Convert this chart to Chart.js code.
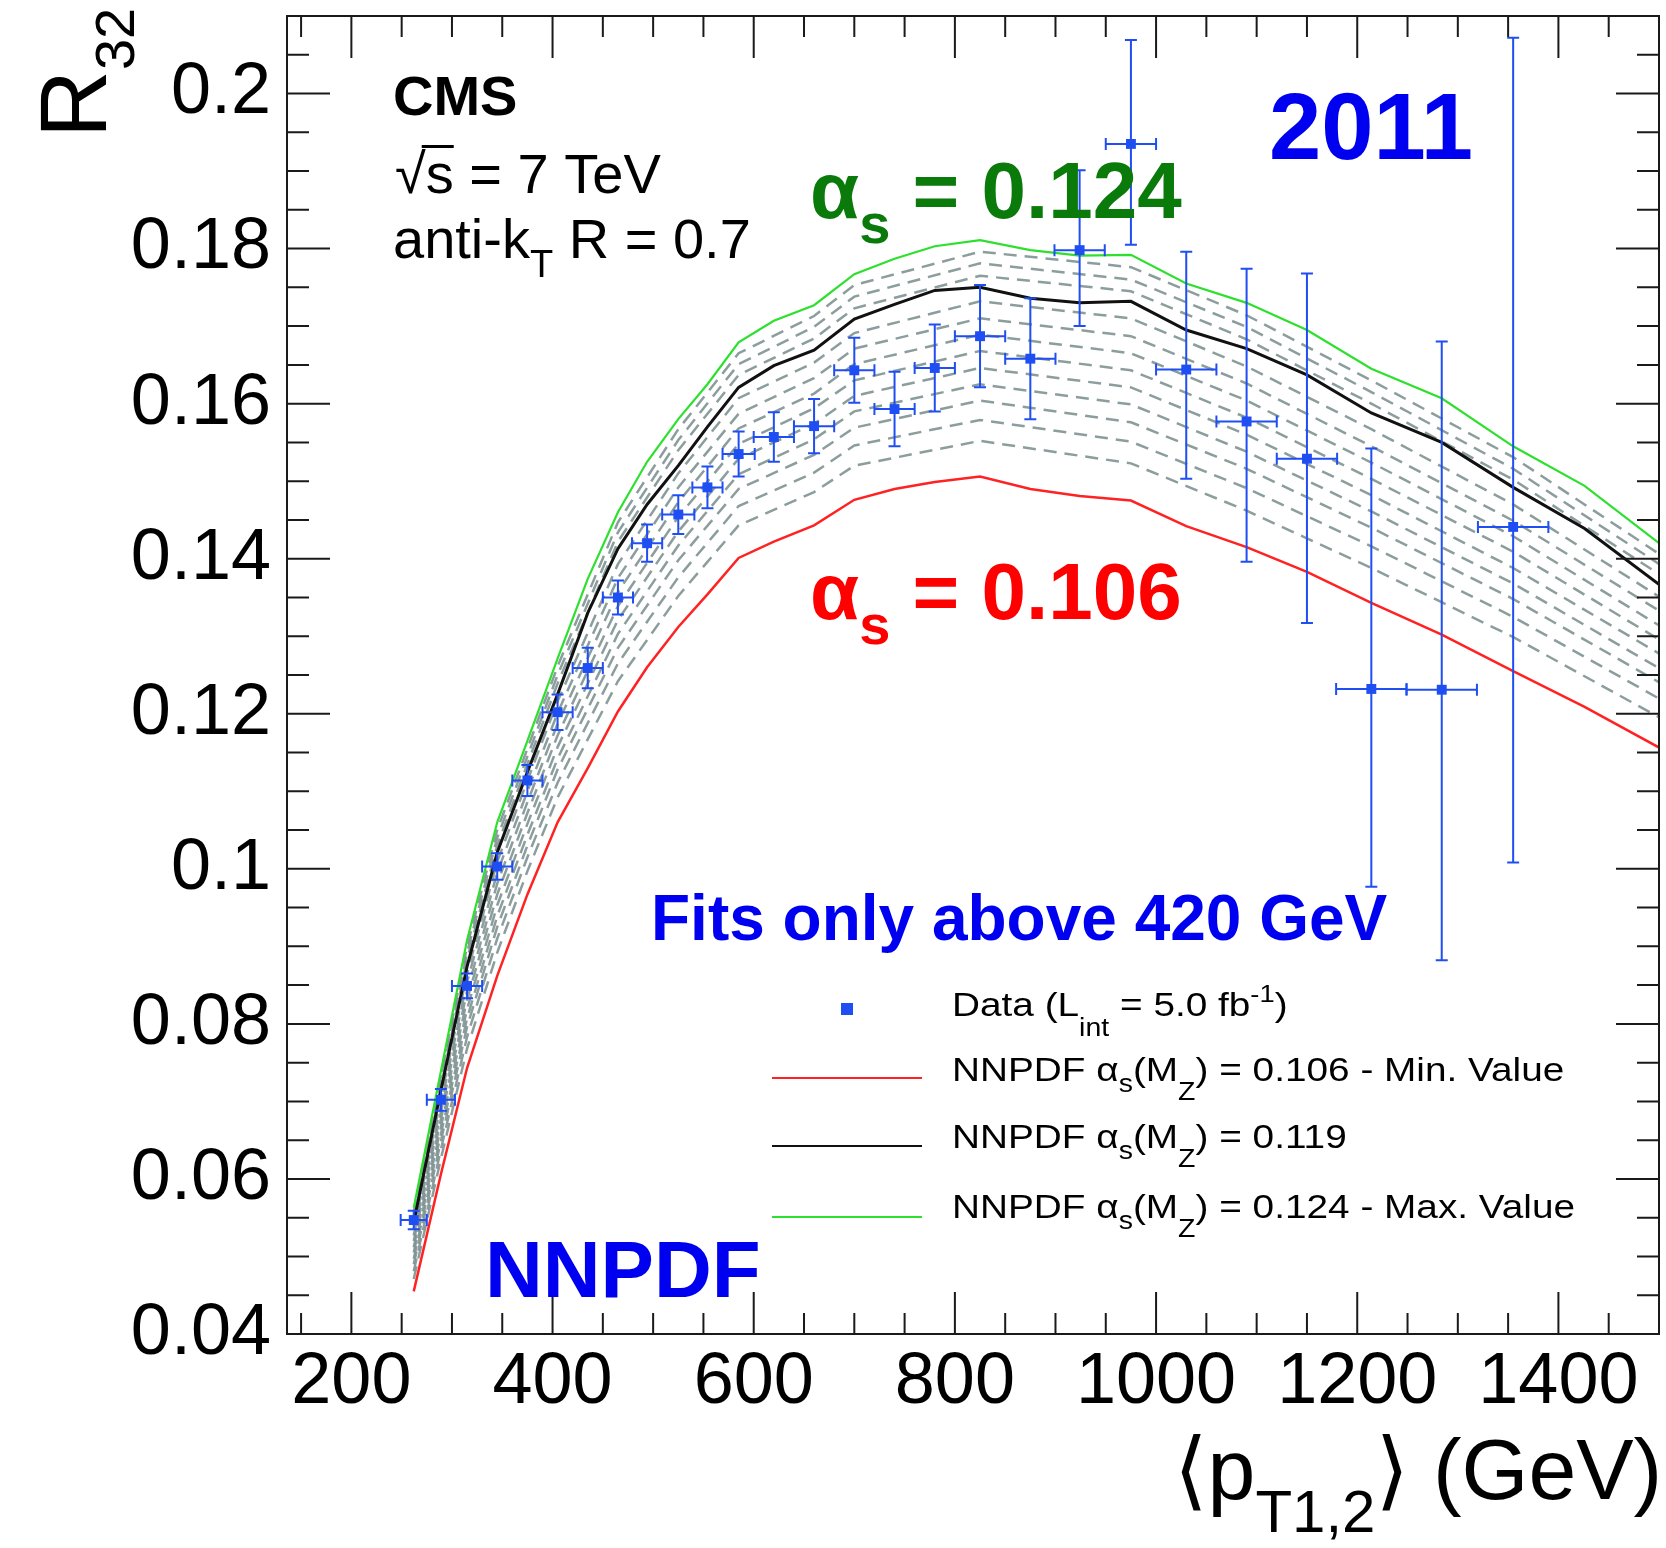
<!DOCTYPE html>
<html>
<head>
<meta charset="utf-8">
<script src="https://cdn.jsdelivr.net/npm/chart.js@4.4.1/dist/chart.umd.min.js"></script>
<style>
  html, body { margin: 0; padding: 0; background: #fff; }
  canvas { display: block; }
</style>
</head>
<body>
<canvas id="r32Chart" width="1666" height="1548"></canvas>
<script>
// axis ticks
const xTicks = [200, 400, 600, 800, 1000, 1200, 1400];
const xTickLabels = ['200', '400', '600', '800', '1000', '1200', '1400'];
const yTicks = [0.04, 0.06, 0.08, 0.1, 0.12, 0.14, 0.16, 0.18, 0.2];
const yTickLabels = ['0.04', '0.06', '0.08', '0.1', '0.12', '0.14', '0.16', '0.18', '0.2'];

// CMS data points (R32 vs <pT1,2>)
const ptX = [262, 289, 315, 345, 375, 405, 435, 465, 494, 525, 554, 585, 620, 660, 700, 740, 780, 825, 875, 924, 975, 1030, 1090, 1150, 1214, 1284, 1355];
const ptY = [0.0547, 0.0702, 0.0849, 0.1003, 0.1114, 0.1202, 0.1259, 0.1350, 0.1420, 0.1457, 0.1492, 0.1535, 0.1557, 0.1571, 0.1643, 0.1593, 0.1646, 0.1687, 0.1658, 0.1798, 0.1935, 0.1644, 0.1577, 0.1529, 0.1232, 0.1231, 0.1441];
const ptErrUp = [0.0012, 0.0014, 0.0016, 0.0017, 0.0020, 0.0023, 0.0026, 0.0022, 0.0024, 0.0025, 0.0027, 0.0029, 0.0032, 0.0035, 0.0042, 0.0048, 0.0056, 0.0066, 0.0078, 0.0103, 0.0134, 0.0152, 0.0197, 0.0239, 0.0310, 0.0449, 0.0631];
const ptErrDn = [0.0012, 0.0014, 0.0016, 0.0017, 0.0020, 0.0023, 0.0026, 0.0022, 0.0024, 0.0025, 0.0027, 0.0029, 0.0032, 0.0035, 0.0042, 0.0048, 0.0056, 0.0066, 0.0078, 0.0098, 0.0130, 0.0141, 0.0181, 0.0212, 0.0255, 0.0349, 0.0433];
const ptXErr = [13, 14, 15, 15, 15, 15, 15, 15, 15, 16, 15, 16, 20, 20, 20, 20, 20, 25, 25, 25, 25, 30, 30, 30, 35, 35, 35];

// NNPDF predictions
const xCurve = [262, 289, 315, 345, 375, 405, 435, 465, 494, 525, 554, 585, 620, 660, 700, 740, 780, 825, 875, 924, 975, 1030, 1090, 1150, 1214, 1284, 1355, 1426, 1505];
const alpha124 = [0.0563, 0.0739, 0.0908, 0.1060, 0.1165, 0.1271, 0.1374, 0.1460, 0.1525, 0.1580, 0.1625, 0.1679, 0.1707, 0.1727, 0.1767, 0.1787, 0.1803, 0.1811, 0.1798, 0.1791, 0.1792, 0.1755, 0.1730, 0.1695, 0.1645, 0.1607, 0.1545, 0.1494, 0.1415];
const alpha119 = [0.0544, 0.0714, 0.0874, 0.1021, 0.1125, 0.1225, 0.1330, 0.1413, 0.1470, 0.1520, 0.1570, 0.1621, 0.1649, 0.1669, 0.1709, 0.1728, 0.1746, 0.1750, 0.1736, 0.1730, 0.1732, 0.1695, 0.1671, 0.1637, 0.1588, 0.1550, 0.1492, 0.1439, 0.1362];
const alpha106 = [0.0455, 0.0606, 0.0743, 0.0862, 0.0967, 0.1060, 0.1130, 0.1203, 0.1260, 0.1312, 0.1354, 0.1401, 0.1422, 0.1443, 0.1476, 0.1490, 0.1499, 0.1506, 0.1490, 0.1481, 0.1475, 0.1442, 0.1415, 0.1383, 0.1343, 0.1302, 0.1255, 0.1209, 0.1153];

// intermediate alpha_s curves (grey dashed)
const xBand = [262, 289, 315, 345, 375, 405, 465, 525, 585, 660, 700, 825, 975, 1090, 1214, 1355, 1505];
const bandCurves = [
  [0.0558, 0.0732, 0.0900, 0.1050, 0.1155, 0.1261, 0.1447, 0.1567, 0.1665, 0.1713, 0.1753, 0.1796, 0.1776, 0.1714, 0.1630, 0.1531, 0.1402],
  [0.0552, 0.0726, 0.0892, 0.1040, 0.1145, 0.1250, 0.1434, 0.1553, 0.1651, 0.1699, 0.1738, 0.1781, 0.1760, 0.1699, 0.1615, 0.1516, 0.1389],
  [0.0547, 0.0719, 0.0883, 0.1030, 0.1135, 0.1239, 0.1422, 0.1540, 0.1637, 0.1684, 0.1723, 0.1765, 0.1745, 0.1683, 0.1600, 0.1502, 0.1376],
  [0.0535, 0.0704, 0.0865, 0.1009, 0.1114, 0.1216, 0.1393, 0.1510, 0.1607, 0.1653, 0.1691, 0.1732, 0.1710, 0.1648, 0.1567, 0.1470, 0.1347],
  [0.0527, 0.0695, 0.0854, 0.0995, 0.1100, 0.1201, 0.1375, 0.1492, 0.1587, 0.1633, 0.1671, 0.1710, 0.1687, 0.1626, 0.1545, 0.1449, 0.1329],
  [0.0520, 0.0686, 0.0842, 0.0981, 0.1086, 0.1187, 0.1357, 0.1473, 0.1568, 0.1613, 0.1651, 0.1689, 0.1665, 0.1604, 0.1524, 0.1429, 0.1310],
  [0.0512, 0.0677, 0.0831, 0.0967, 0.1072, 0.1172, 0.1339, 0.1454, 0.1548, 0.1594, 0.1630, 0.1668, 0.1643, 0.1582, 0.1503, 0.1409, 0.1292],
  [0.0505, 0.0667, 0.0819, 0.0953, 0.1058, 0.1157, 0.1321, 0.1435, 0.1529, 0.1574, 0.1610, 0.1646, 0.1621, 0.1560, 0.1482, 0.1388, 0.1274],
  [0.0497, 0.0658, 0.0807, 0.0939, 0.1044, 0.1142, 0.1303, 0.1417, 0.1509, 0.1554, 0.1590, 0.1625, 0.1599, 0.1538, 0.1461, 0.1368, 0.1255],
  [0.0490, 0.0649, 0.0796, 0.0925, 0.1030, 0.1128, 0.1285, 0.1398, 0.1490, 0.1534, 0.1569, 0.1604, 0.1576, 0.1516, 0.1440, 0.1348, 0.1237],
  [0.0481, 0.0638, 0.0783, 0.0910, 0.1015, 0.1111, 0.1265, 0.1376, 0.1468, 0.1511, 0.1546, 0.1579, 0.1551, 0.1491, 0.1416, 0.1325, 0.1216],
  [0.0471, 0.0626, 0.0768, 0.0892, 0.0997, 0.1092, 0.1242, 0.1352, 0.1443, 0.1486, 0.1520, 0.1552, 0.1523, 0.1462, 0.1388, 0.1299, 0.1192]
];

const FONT = '"Liberation Sans", Arial, "DejaVu Sans", sans-serif';
const dataBlue = '#1f4ef2';
const redLine = '#ff2222';
const greenLine = '#2ee02e';

function toXY(xs, ys) {
  return xs.map((x, i) => ({ x: x, y: ys[i] }));
}

// text with sub/superscripts: parts = [text, size, dy, bold]
function rich(c, x, y, parts) {
  parts.forEach(p => {
    c.font = (p[3] ? 'bold ' : '') + p[1] + 'px ' + FONT;
    c.fillText(p[0], x, y + p[2]);
    x += c.measureText(p[0]).width;
  });
  return x;
}

// ROOT style frame with inward ticks on all four sides
const frameTicks = {
  id: 'frameTicks',
  afterDatasetsDraw(chart) {
    const c = chart.ctx;
    const a = chart.chartArea;
    const xs = chart.scales.x, ys = chart.scales.y;
    c.save();
    c.strokeStyle = '#1a1a1a';
    c.lineWidth = 2;
    c.strokeRect(a.left, a.top, a.right - a.left, a.bottom - a.top);
    c.beginPath();
    for (let v = 150; v <= 1500; v += 50) {
      const px = xs.getPixelForValue(v);
      const len = v % 200 === 0 ? 42 : 21;
      c.moveTo(px, a.bottom); c.lineTo(px, a.bottom - len);
      c.moveTo(px, a.top); c.lineTo(px, a.top + len);
    }
    for (let k = 8; k <= 42; k++) {
      const py = ys.getPixelForValue(k * 0.005);
      const len = k % 4 === 0 ? 43 : 22;
      c.moveTo(a.left, py); c.lineTo(a.left + len, py);
      c.moveTo(a.right, py); c.lineTo(a.right - len, py);
    }
    c.stroke();
    c.restore();
  }
};

// error bars for the data points
const errorBars = {
  id: 'errorBars',
  afterDatasetsDraw(chart) {
    const c = chart.ctx;
    const a = chart.chartArea;
    const xs = chart.scales.x, ys = chart.scales.y;
    c.save();
    c.beginPath();
    c.rect(a.left, a.top, a.right - a.left, a.bottom - a.top);
    c.clip();
    c.strokeStyle = dataBlue;
    c.lineWidth = 2;
    ptX.forEach((v, i) => {
      const px = xs.getPixelForValue(v);
      const py = ys.getPixelForValue(ptY[i]);
      const x1 = xs.getPixelForValue(v - ptXErr[i]);
      const x2 = xs.getPixelForValue(v + ptXErr[i]);
      const y1 = ys.getPixelForValue(ptY[i] + ptErrUp[i]);
      const y2 = ys.getPixelForValue(ptY[i] - ptErrDn[i]);
      c.beginPath();
      c.moveTo(x1, py); c.lineTo(x2, py);
      c.moveTo(px, y1); c.lineTo(px, y2);
      c.moveTo(x1, py - 6); c.lineTo(x1, py + 6);
      c.moveTo(x2, py - 6); c.lineTo(x2, py + 6);
      c.moveTo(px - 6, y1); c.lineTo(px + 6, y1);
      c.moveTo(px - 6, y2); c.lineTo(px + 6, y2);
      c.stroke();
    });
    c.restore();
  }
};

// labels, legend and axis titles
const labels = {
  id: 'labels',
  afterDraw(chart) {
    const c = chart.ctx;
    c.save();
    c.textAlign = 'left';
    c.textBaseline = 'alphabetic';

    c.fillStyle = '#000';
    rich(c, 393, 115, [['CMS', 56, 0, true]]);
    const sq = rich(c, 395, 193, [['\u221A', 56, 0]]);
    const sEnd = rich(c, sq, 193, [['s', 56, 0]]);
    c.fillRect(sq - 4, 145, sEnd - sq + 4, 3);
    rich(c, sEnd, 193, [[' = 7 TeV', 56, 0]]);
    rich(c, 393, 258, [['anti-k', 56, 0], ['T', 38, 19], [' R = 0.7', 56, 0]]);

    c.fillStyle = '#0a7a0a';
    rich(c, 810, 218, [['\u03B1', 80, 0, true], ['s', 56, 25, true], [' = 0.124', 80, 0, true]]);
    c.fillStyle = '#ff0000';
    rich(c, 810, 619, [['\u03B1', 80, 0, true], ['s', 56, 25, true], [' = 0.106', 80, 0, true]]);

    c.fillStyle = '#0000f0';
    rich(c, 1269, 159, [['2011', 94, 0, true]]);
    rich(c, 651, 940, [['Fits only above 420 GeV', 64, 0, true]]);
    rich(c, 485, 1297, [['NNPDF', 80, 0, true]]);

    // legend
    c.fillStyle = dataBlue;
    c.fillRect(841, 1003, 12, 12);
    c.lineWidth = 2;
    [[redLine, 1078], ['#111', 1146], [greenLine, 1217]].forEach(l => {
      c.strokeStyle = l[0];
      c.beginPath(); c.moveTo(772, l[1]); c.lineTo(922, l[1]); c.stroke();
    });
    c.fillStyle = '#000';
    const rows = [
      [1016, [['Data (L', 34, 0], ['int', 25, 20], [' = 5.0 fb', 34, 0], ['-1', 24, -14], [')', 34, 0]]],
      [1081, [['NNPDF \u03B1', 34, 0], ['s', 25, 11], ['(M', 34, 0], ['Z', 25, 19], [') = 0.106 - Min. Value', 34, 0]]],
      [1148, [['NNPDF \u03B1', 34, 0], ['s', 25, 11], ['(M', 34, 0], ['Z', 25, 19], [') = 0.119', 34, 0]]],
      [1218, [['NNPDF \u03B1', 34, 0], ['s', 25, 11], ['(M', 34, 0], ['Z', 25, 19], [') = 0.124 - Max. Value', 34, 0]]]
    ];
    rows.forEach(r => {
      c.save();
      c.translate(952, 0);
      c.scale(1.14, 1);
      rich(c, 0, r[0], r[1]);
      c.restore();
    });

    // axis titles
    rich(c, 1174, 1499, [['\u27E8', 86, 0], ['p', 86, 0], ['T1,2', 60, 33], ['\u27E9', 86, 0], [' (GeV)', 86, 0]]);
    c.translate(106, 138);
    c.rotate(-Math.PI / 2);
    rich(c, 0, 0, [['R', 94, 0], ['32', 56, 28]]);
    c.restore();
  }
};

const bandSets = bandCurves.map(vals => ({
  data: toXY(xBand, vals),
  borderColor: 'rgba(128,146,146,0.9)',
  borderWidth: 2.5,
  borderDash: [13, 8],
  pointRadius: 0,
  fill: false,
  order: 3
}));

const ctx = document.getElementById('r32Chart').getContext('2d');

new Chart(ctx, {
  type: 'line',
  data: {
    datasets: [
      {
        label: 'Data',
        data: toXY(ptX, ptY),
        showLine: false,
        pointStyle: 'rect',
        pointRadius: 7,
        backgroundColor: dataBlue,
        borderWidth: 0,
        order: 0
      },
      { label: '0.124', data: toXY(xCurve, alpha124), borderColor: greenLine, borderWidth: 2.2, pointRadius: 0, fill: false, order: 1 },
      { label: '0.119', data: toXY(xCurve, alpha119), borderColor: '#111', borderWidth: 3, pointRadius: 0, fill: false, order: 1 },
      { label: '0.106', data: toXY(xCurve, alpha106), borderColor: redLine, borderWidth: 2.5, pointRadius: 0, fill: false, order: 1 }
    ].concat(bandSets)
  },
  options: {
    responsive: false,
    animation: false,
    events: [],
    layout: { padding: { top: 16, right: 2, left: 0, bottom: 0 } },
    plugins: {
      legend: { display: false },
      tooltip: { enabled: false }
    },
    scales: {
      x: {
        type: 'linear',
        min: 136,
        max: 1500,
        grid: { display: false, drawTicks: false },
        border: { display: false },
        afterBuildTicks: s => { s.ticks = xTicks.map(v => ({ value: v })); },
        afterFit: s => { s.height = 214; s.paddingLeft = 0; s.paddingRight = 0; },
        ticks: {
          color: '#000',
          font: { family: 'Liberation Sans', size: 72 },
          padding: 6,
          maxRotation: 0,
          minRotation: 0,
          autoSkip: false,
          callback: (v, i) => xTickLabels[i]
        }
      },
      y: {
        min: 0.04,
        max: 0.21,
        grid: { display: false, drawTicks: false },
        border: { display: false },
        afterBuildTicks: s => { s.ticks = yTicks.map(v => ({ value: v })); },
        afterFit: s => { s.width = 287; s.paddingTop = 0; s.paddingBottom = 0; },
        ticks: {
          color: '#000',
          font: { family: 'Liberation Sans', size: 72 },
          padding: 16,
          autoSkip: false,
          callback: (v, i) => yTickLabels[i]
        }
      }
    }
  },
  plugins: [frameTicks, errorBars, labels]
});
</script>
</body>
</html>
